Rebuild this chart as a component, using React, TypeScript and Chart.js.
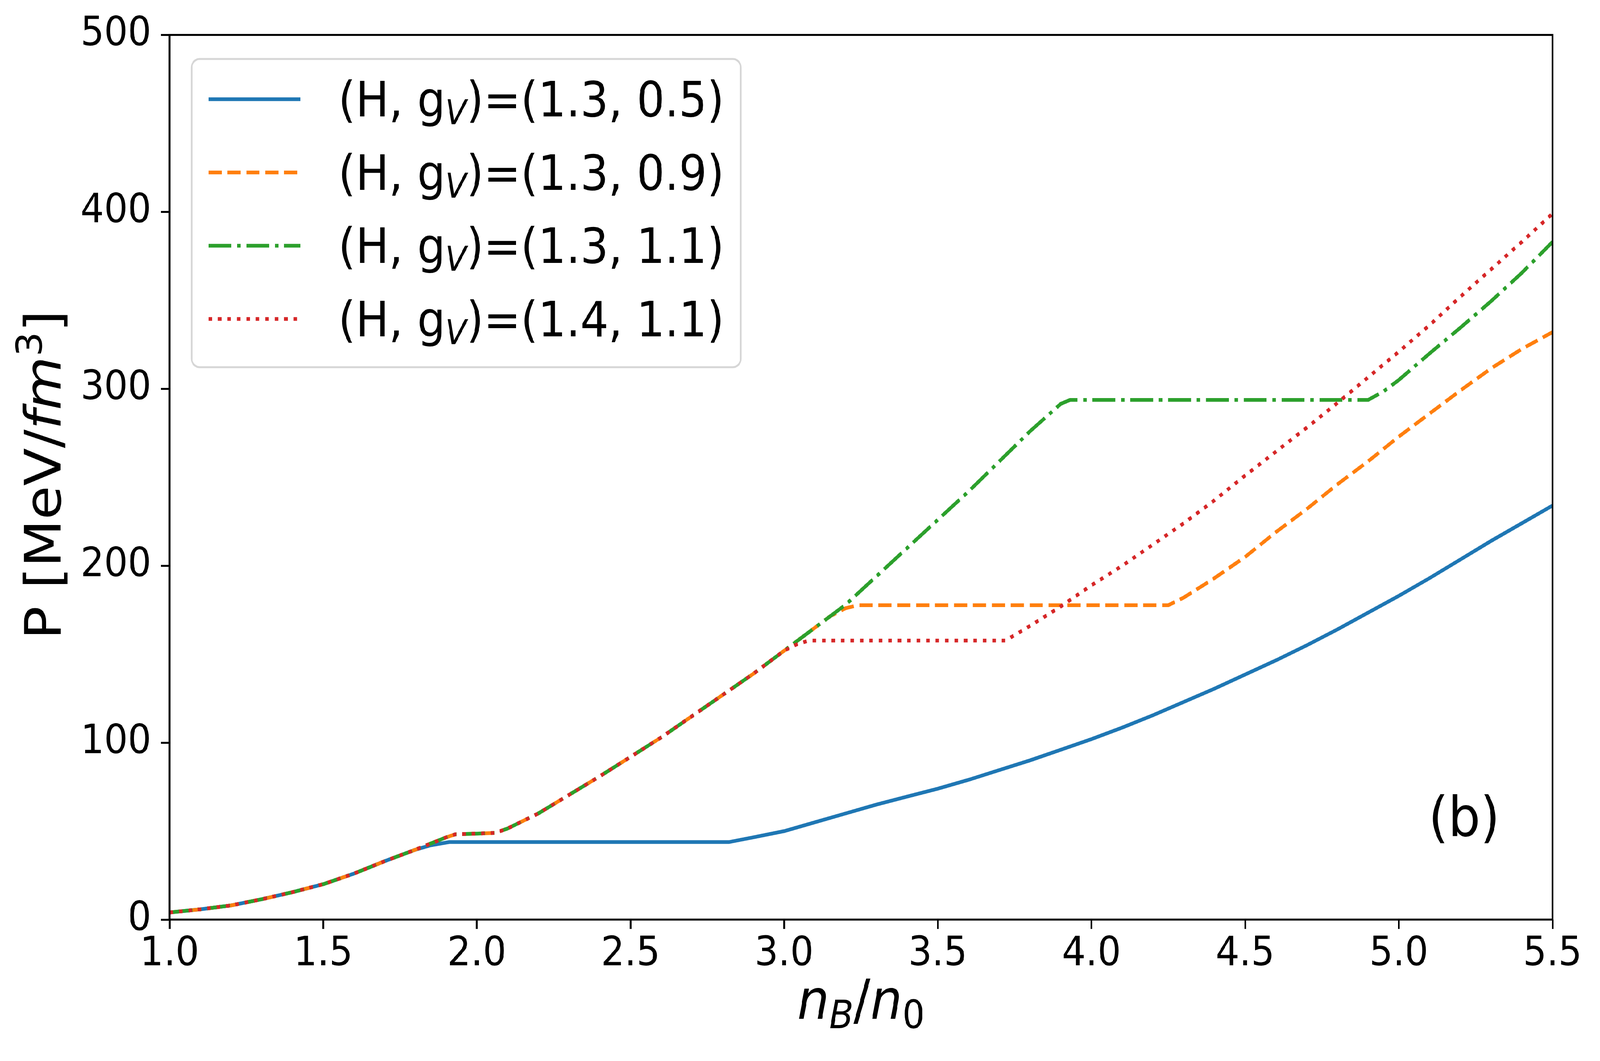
import React, { useEffect, useRef } from 'react';
import { Chart, registerables } from 'chart.js';
Chart.register(...registerables);

// n_B/n_0 and P [MeV/fm^3]
const sharedX = [1.0, 1.1, 1.2, 1.3, 1.4, 1.5, 1.6, 1.7, 1.8];
const sharedY = [4, 5.8, 8, 11.5, 15.5, 20, 26, 33, 39.5];

const blueX = [1.85, 1.91, 2.82, 2.9, 3.0, 3.1, 3.2, 3.3, 3.4, 3.5, 3.6, 3.7, 3.8, 3.9, 4.0, 4.1, 4.2, 4.3, 4.4, 4.5, 4.6, 4.7, 4.8, 4.9, 5.0, 5.1, 5.2, 5.3, 5.4, 5.5];
const blueY = [42, 43.8, 43.8, 46.5, 50, 55, 60, 65, 69.5, 74, 79, 84.5, 90, 96, 102, 108.5, 115.5, 123, 130.5, 138.5, 146.5, 155, 164, 173.5, 183, 193, 203.5, 214, 224, 234];

// the upper branch shared by the three larger g_V curves
const upperX = [1.85, 1.9, 1.93, 2.0, 2.06, 2.1, 2.2, 2.3, 2.4, 2.5, 2.6, 2.7, 2.8, 2.9, 3.0];
const upperY = [43, 46.5, 48.2, 48.6, 49, 51.5, 60, 70.5, 81, 92, 103, 115, 127, 139, 152];

const orangeX = [3.1, 3.15, 3.2, 3.24, 4.25, 4.3, 4.4, 4.5, 4.6, 4.7, 4.8, 4.9, 5.0, 5.1, 5.2, 5.3, 5.4, 5.5];
const orangeY = [165, 171.5, 176, 177.7, 177.7, 182, 193, 205, 219, 232, 246, 259, 273, 286, 299, 311.5, 322.5, 332];

const greenX = [3.1, 3.2, 3.3, 3.4, 3.5, 3.6, 3.7, 3.8, 3.9, 3.93, 4.9, 4.95, 5.0, 5.1, 5.2, 5.3, 5.4, 5.5];
const greenY = [165, 178, 194, 210, 226, 242, 259, 276, 291.5, 293.7, 293.7, 298.5, 305, 320, 334.5, 349.5, 365.5, 383];

const redX = [3.04, 3.08, 3.72, 3.8, 3.9, 4.0, 4.1, 4.2, 4.3, 4.4, 4.5, 4.6, 4.7, 4.8, 4.9, 5.0, 5.1, 5.2, 5.3, 5.4, 5.5];
const redY = [155.5, 157.7, 157.7, 166, 177, 189, 200, 212, 224, 237, 251, 264.5, 278, 292, 306.5, 321, 336, 352, 367.5, 383, 399];

const legendValues = ['(1.3, 0.5)', '(1.3, 0.9)', '(1.3, 1.1)', '(1.4, 1.1)'];
const colors = ['#1f77b4', '#ff7f0e', '#2ca02c', '#d62728'];
const dashes = [[], [37, 16], [64, 16, 10, 16], [10, 16.5]];

const FONT = '"DejaVu Sans"';
const W = 4482;
const H = 2716;
const LW = 9.5;

const toPoints = (xs: number[], ys: number[]) => xs.map((x, i) => ({ x, y: ys[i] }));

type Part = { text: string; size: number; italic?: boolean; dy?: number };

const fontOf = (p: Part) => `${p.italic ? 'italic ' : ''}${p.size}px ${FONT}`;

// mathtext-like run of text pieces (subscripts, italics) on one baseline
function drawParts(ctx: CanvasRenderingContext2D, parts: Part[], x: number, y: number, center: boolean) {
  let w = 0;
  for (const p of parts) {
    ctx.font = fontOf(p);
    w += ctx.measureText(p.text).width;
  }
  let cx = center ? x - w / 2 : x;
  for (const p of parts) {
    ctx.font = fontOf(p);
    ctx.fillText(p.text, cx, y + (p.dy || 0));
    cx += ctx.measureText(p.text).width;
  }
}

const decorations = {
  id: 'decorations',
  afterDatasetsDraw(chart: Chart) {
    const { ctx, chartArea } = chart;
    ctx.save();
    ctx.strokeStyle = '#000';
    ctx.lineWidth = 5;
    ctx.strokeRect(chartArea.left, chartArea.top, chartArea.right - chartArea.left, chartArea.bottom - chartArea.top);
    ctx.restore();
  },
  afterDraw(chart: Chart) {
    const { ctx, chartArea } = chart;
    ctx.save();
    ctx.fillStyle = '#000';
    ctx.textBaseline = 'alphabetic';
    ctx.textAlign = 'left';

    // legend frame
    const bx = 537, by = 151, bw = 1538, bh = 789, r = 22;
    ctx.beginPath();
    ctx.moveTo(bx + r, by);
    ctx.arcTo(bx + bw, by, bx + bw, by + bh, r);
    ctx.arcTo(bx + bw, by + bh, bx, by + bh, r);
    ctx.arcTo(bx, by + bh, bx, by, r);
    ctx.arcTo(bx, by, bx + bw, by, r);
    ctx.closePath();
    ctx.fillStyle = 'rgba(255,255,255,0.8)';
    ctx.fill();
    ctx.strokeStyle = 'rgba(204,204,204,0.8)';
    ctx.lineWidth = 5;
    ctx.stroke();

    legendValues.forEach((val, i) => {
      const base = 298 + i * 187.5;
      ctx.save();
      ctx.strokeStyle = colors[i];
      ctx.lineWidth = LW;
      ctx.lineCap = 'butt';
      ctx.setLineDash(dashes[i]);
      ctx.beginPath();
      ctx.moveTo(584, base - 44);
      ctx.lineTo(842, base - 44);
      ctx.stroke();
      ctx.restore();
      ctx.fillStyle = '#000';
      drawParts(ctx, [
        { text: '(H, g', size: 124 },
        { text: 'V', size: 87, italic: true, dy: 20 },
        { text: ')=' + val, size: 124 },
      ], 948, base, false);
    });

    // axis titles
    drawParts(ctx, [
      { text: 'n', size: 141, italic: true },
      { text: 'B', size: 99, italic: true, dy: 24 },
      { text: '/', size: 141 },
      { text: 'n', size: 141, italic: true },
      { text: '0', size: 99, dy: 24 },
    ], (chartArea.left + chartArea.right) / 2, 2608, true);

    ctx.save();
    ctx.translate(170, (chartArea.top + chartArea.bottom) / 2 - 6);
    ctx.rotate(-Math.PI / 2);
    drawParts(ctx, [
      { text: 'P [MeV/', size: 141 },
      { text: 'fm', size: 141, italic: true },
      { text: '3', size: 99, dy: -53 },
      { text: ']', size: 141 },
    ], 0, 0, true);
    ctx.restore();

    ctx.font = `141px ${FONT}`;
    ctx.fillText('(b)', 4002, 2140);
    ctx.restore();
  },
};

const App: React.FC = () => {
  const canvasRef = useRef<HTMLCanvasElement | null>(null);
  const chartRef = useRef<Chart | null>(null);

  // the figure is laid out at 4482x2716 and stretched to fill the viewport
  const sx = window.innerWidth / W;
  const sy = window.innerHeight / H;

  useEffect(() => {
    document.body.style.margin = '0';
    document.body.style.overflow = 'hidden';
    if (chartRef.current) chartRef.current.destroy();
    const ctx = canvasRef.current?.getContext('2d');
    if (!ctx) return;

    const series = [
      toPoints([...sharedX, ...blueX], [...sharedY, ...blueY]),
      toPoints([...sharedX, ...upperX, ...orangeX], [...sharedY, ...upperY, ...orangeY]),
      toPoints([...sharedX, ...upperX, ...greenX], [...sharedY, ...upperY, ...greenY]),
      toPoints([...sharedX, ...upperX, ...redX], [...sharedY, ...upperY, ...redY]),
    ];

    const tickFont = { family: 'DejaVu Sans', size: 104 };
    const grid = { drawOnChartArea: false, drawTicks: true, tickLength: 24, tickWidth: 5, tickColor: '#000' };

    chartRef.current = new Chart(ctx, {
      type: 'line',
      data: {
        datasets: series.map((data, i) => ({
          label: legendValues[i],
          data,
          borderColor: colors[i],
          backgroundColor: colors[i],
          borderWidth: LW,
          borderDash: dashes[i],
          pointRadius: 0,
          fill: false,
          tension: 0,
          order: 4 - i,
        })),
      },
      options: {
        animation: false,
        responsive: false,
        devicePixelRatio: 1,
        events: [],
        layout: { padding: { top: 89, right: 133, left: 0, bottom: 0 } },
        plugins: { legend: { display: false }, tooltip: { enabled: false } },
        scales: {
          x: {
            type: 'linear',
            min: 1,
            max: 5.5,
            afterFit: (sc: any) => { sc.height = 362; },
            border: { display: false },
            grid,
            ticks: {
              stepSize: 0.5,
              color: '#000',
              padding: 4,
              font: tickFont,
              callback: (v: any) => Number(v).toFixed(1),
            },
          },
          y: {
            min: 0,
            max: 500,
            afterFit: (sc: any) => { sc.width = 475; },
            border: { display: false },
            grid,
            ticks: {
              stepSize: 100,
              color: '#000',
              padding: 27,
              font: tickFont,
            },
          },
        },
      },
      plugins: [decorations],
    });

    return () => {
      if (chartRef.current) {
        chartRef.current.destroy();
        chartRef.current = null;
      }
    };
  }, []);

  return (
    <div style={{ width: W, height: H, background: '#fff', transform: `scale(${sx}, ${sy})`, transformOrigin: '0 0' }}>
      <canvas ref={canvasRef} width={W} height={H} />
    </div>
  );
};

export default App;
